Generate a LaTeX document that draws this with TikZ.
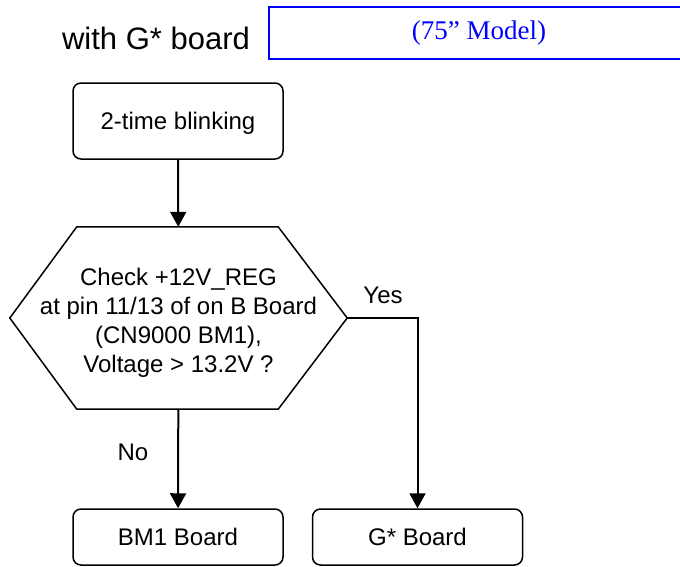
\documentclass[tikz,border=0pt]{standalone}
\usepackage{fontspec}
\setmainfont{Liberation Sans}
\newfontfamily\timesfont{Liberation Serif}
\usepackage{tikz}
\usetikzlibrary{arrows.meta,positioning,calc}

\begin{document}
\begin{tikzpicture}[
  x=1pt, y=-1pt,
  >={Triangle[length=15pt,width=16pt]},
  every node/.style={font=\fontsize{24}{29}\selectfont},
  box/.style={draw, line width=1.5pt, rounded corners=8pt, minimum width=210pt, align=center},
  flow/.style={->, line width=2pt},
  lbl/.style={inner sep=0pt},
]
\clip (0,0) rectangle (680,566);
\useasboundingbox (0,0) rectangle (680,566);

% Header
\node[inner sep=0pt, font=\fontsize{31}{37}\selectfont] (title) at (156,38) {with G* board};
\draw[blue, line width=2.5pt] (269,7) rectangle (700,59);
\node[text=blue, font=\timesfont\fontsize{27}{32}\selectfont] (model) at (479,33) {(75” Model)};

% Boxes
\node[box, minimum height=76pt, text depth=0pt] (blink) at (178,121) {2-time blinking};
\node[minimum width=337pt, minimum height=182pt, align=center] (check) at (178.5,318)
  {\rule{0pt}{26pt}Check +12V\_REG\\at pin 11/13 of on B Board\\(CN9000 BM1),\\Voltage > 13.2V ?};
\draw[line width=1.5pt] (check.west) -- ([xshift=67pt]check.north west)
  -- ([xshift=-69pt]check.north east) -- (check.east)
  -- ([xshift=-69pt]check.south east) -- ([xshift=67pt]check.south west) -- cycle;
\node[box, minimum height=56pt] (bm1)   at (178,537)   {BM1 Board};
\node[box, minimum height=56pt] (gstar) at (417.5,537) {G* Board};

% Arrows
\draw[flow] (blink) -- (check);
\draw[flow] (check) -- (bm1);
\draw[flow] (check.east) -| (gstar.north);

% Labels
\node[lbl] (yes) at (383,295) {Yes};
\node[lbl] (no)  at (133,452) {No};

\end{tikzpicture}
\end{document}
